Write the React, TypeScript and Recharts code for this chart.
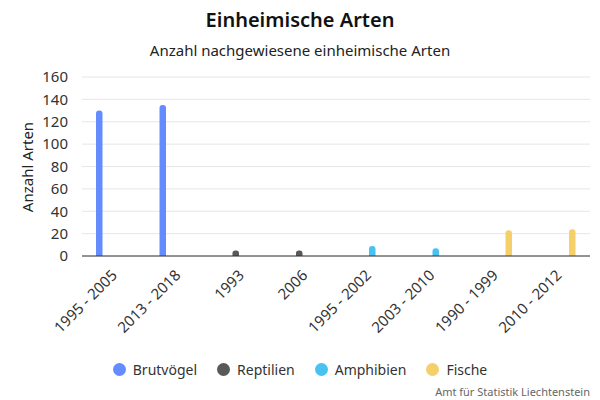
import React from 'react';
import { BarChart, Bar, XAxis, YAxis, CartesianGrid } from 'recharts';

// Zeiträume der Erhebungen (je Artengruppe zwei)
const periods = ['1995 - 2005', '2013 - 2018', '1993', '2006', '1995 - 2002', '2003 - 2010', '1990 - 1999', '2010 - 2012'];

const brutvoegel = [130, 135, null, null, null, null, null, null];
const reptilien = [null, null, 5, 5, null, null, null, null];
const amphibien = [null, null, null, null, 9, 7, null, null];
const fische = [null, null, null, null, null, null, 23, 24];

const yTicks = [0, 20, 40, 60, 80, 100, 120, 140, 160];

const series = [
    { key: 'brutvoegel', name: 'Brutvögel', color: '#648CFF' },
    { key: 'reptilien', name: 'Reptilien', color: '#595959' },
    { key: 'amphibien', name: 'Amphibien', color: '#48C2F0' },
    { key: 'fische', name: 'Fische', color: '#F5CF6A' },
];

const data = periods.map((p, i) => ({
    period: p,
    brutvoegel: brutvoegel[i],
    reptilien: reptilien[i],
    amphibien: amphibien[i],
    fische: fische[i],
}));

const FONT = '"Noto Sans", Lato, sans-serif';

const AngledTick = ({ x, y, payload }: any) => (
    <g transform={`translate(${x},${y + 8})`}>
        <text x={0} y={0} dy={6} textAnchor="end" fill="#333" fontSize={15} transform="rotate(-45)">
            {payload.value}
        </text>
    </g>
);

export default function App() {
    return (
        <div style={{ position: 'absolute', left: 0, top: 0, width: 600, height: 400, background: '#fff', fontFamily: FONT, color: '#333' }}>
            <div style={{ position: 'absolute', top: 6, width: 600, textAlign: 'center', fontSize: 20, fontWeight: 600, color: '#111' }}>
                Einheimische Arten
            </div>
            <div style={{ position: 'absolute', top: 40, width: 600, textAlign: 'center', fontSize: 15, color: '#222' }}>
                Anzahl nachgewiesene einheimische Arten
            </div>
            <div style={{ position: 'absolute', left: 27, top: 167, transform: 'translate(-50%, -50%) rotate(-90deg)', fontSize: 15, whiteSpace: 'nowrap', color: '#222' }}>
                Anzahl Arten
            </div>
            <BarChart
                width={600}
                height={400}
                data={data}
                margin={{ top: 77, right: 10, left: 0, bottom: 64 }}
                barGap={3}
                style={{ position: 'absolute', left: 0, top: 0 }}
            >
                <CartesianGrid horizontal vertical={false} stroke="#e6e6e6" />
                <XAxis
                    dataKey="period"
                    interval={0}
                    height={80}
                    tickLine={false}
                    axisLine={{ stroke: '#333' }}
                    tick={<AngledTick />}
                />
                <YAxis
                    width={82}
                    domain={[0, 160]}
                    ticks={yTicks}
                    interval={0}
                    tickLine={false}
                    axisLine={false}
                    tickMargin={8}
                    tick={{ fill: '#333', fontSize: 15 }}
                />
                {series.map((s) => (
                    <Bar
                        key={s.key}
                        dataKey={s.key}
                        name={s.name}
                        fill={s.color}
                        barSize={6.5}
                        radius={[3, 3, 0, 0]}
                        isAnimationActive={false}
                    />
                ))}
            </BarChart>
            <div style={{ position: 'absolute', top: 360, width: 600, display: 'flex', justifyContent: 'center', gap: 20, fontSize: 14 }}>
                {series.map((s) => (
                    <div key={s.key} style={{ display: 'flex', alignItems: 'center' }}>
                        <span style={{ width: 13, height: 13, borderRadius: '50%', background: s.color, marginRight: 7, display: 'inline-block' }} />
                        <span>{s.name}</span>
                    </div>
                ))}
            </div>
            <div style={{ position: 'absolute', right: 10, top: 384, fontSize: 11, color: '#666' }}>
                Amt für Statistik Liechtenstein
            </div>
        </div>
    );
}
